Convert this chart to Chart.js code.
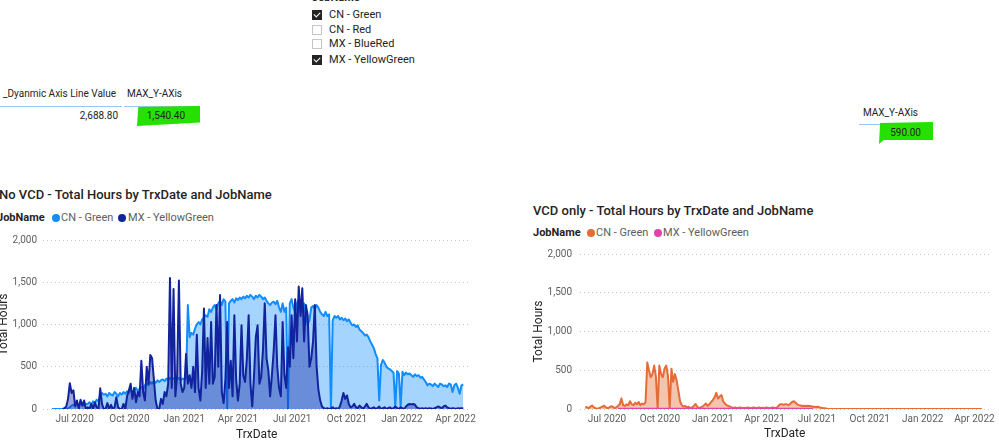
<!DOCTYPE html>
<html>
<head>
<meta charset="utf-8">
<title>Total Hours by TrxDate and JobName</title>
<script src="https://cdn.jsdelivr.net/npm/chart.js@4.4.1/dist/chart.umd.min.js"></script>
<style>
  body { margin: 0; width: 999px; height: 442px; overflow: hidden; background: #fff;
         font-family: Roboto, 'Noto Sans', sans-serif; color: #252423; position: relative; }
  .t { position: absolute; white-space: nowrap; font-size: 11px; line-height: 14px; }
  .s { font-size: 10px; }
  .r { text-align: right; }
  .box { position: absolute; width: 10px; height: 10px; box-sizing: border-box; }
  .box.on { background: #252423; }
  .box.off { border: 1px solid #c8c6c4; background: #fff; }
  .box.on::after { content: ''; position: absolute; left: 3px; top: 1px; width: 3px; height: 5px;
                   border: solid #fff; border-width: 0 1px 1px 0; transform: rotate(45deg); }
  .rule { position: absolute; height: 1px; background: #9fc5ee; }
  .mark { position: absolute; background: #25e000; }
  .title { position: absolute; white-space: nowrap; font-size: 13px; line-height: 18px; font-weight: 500; color: #252423; }
  .leg { position: absolute; white-space: nowrap; font-size: 11px; line-height: 14px; color: #605e5c; }
  .leg b { color: #252423; }
  .dot { position: absolute; width: 8px; height: 8px; border-radius: 50%; }
  canvas { position: absolute; }
</style>
</head>
<body>

<!-- slicer -->
<div class="t" style="left:312px; top:-9px; font-weight:bold;">JobName</div>
<div class="box on"  style="left:312px; top:10px;"></div>
<div class="box off" style="left:312px; top:25px;"></div>
<div class="box off" style="left:312px; top:39px;"></div>
<div class="box on"  style="left:312px; top:55px;"></div>
<div class="t" style="left:329px; top:8px;">CN - Green</div>
<div class="t" style="left:329px; top:23px;">CN - Red</div>
<div class="t" style="left:329px; top:37px;">MX - BlueRed</div>
<div class="t" style="left:329px; top:53px;">MX - YellowGreen</div>

<!-- table -->
<div class="t s" style="left:3px; top:87px;">_Dyanmic Axis Line Value</div>
<div class="t s" style="left:127px; top:87px;">MAX_Y-AXis</div>
<div class="rule" style="left:0; top:106px; width:122px;"></div>
<div class="rule" style="left:124px; top:106px; width:76px;"></div>
<div class="t s r" style="left:40px; width:78px; top:109px;">2,688.80</div>
<div class="mark" style="left:137px; top:106px; width:63px; height:20px; clip-path: polygon(2% 5%, 100% 0, 100% 82%, 0 100%);"></div>
<div class="t s r" style="left:120px; width:65px; top:109px;">1,540.40</div>

<!-- card -->
<div class="t s" style="left:863px; top:106px;">MAX_Y-AXis</div>
<div class="rule" style="left:859px; top:124px; width:70px;"></div>
<div class="mark" style="left:879px; top:122px; width:54px; height:22px; clip-path: polygon(2% 5%, 100% 0, 100% 82%, 9% 82%, 0 100%);"></div>
<div class="t s r" style="left:870px; width:51px; top:126px;">590.00</div>

<!-- chart headers -->
<div class="title" style="left:-1px; top:186px;">No VCD - Total Hours by TrxDate and JobName</div>
<div class="leg" style="left:-3px; top:211px;"><b>JobName</b></div>
<div class="dot" style="left:52px; top:214px; background:#118dff;"></div>
<div class="leg" style="left:61px; top:211px;">CN - Green</div>
<div class="dot" style="left:118px; top:214px; background:#12239e;"></div>
<div class="leg" style="left:128px; top:211px;">MX - YellowGreen</div>

<div class="title" style="left:533px; top:202px;">VCD only - Total Hours by TrxDate and JobName</div>
<div class="leg" style="left:533px; top:226px;"><b>JobName</b></div>
<div class="dot" style="left:587px; top:229px; background:#e66c37;"></div>
<div class="leg" style="left:596px; top:226px;">CN - Green</div>
<div class="dot" style="left:654px; top:229px; background:#e044a7;"></div>
<div class="leg" style="left:663px; top:226px;">MX - YellowGreen</div>

<canvas id="noVcdChart" width="484" height="214" style="left:-4px; top:228px;"></canvas>
<canvas id="vcdChart" width="469" height="202" style="left:530px; top:240px;"></canvas>

<script>
// Points are every 3 days starting 2020-05-24
const firstDate = '2020-05-24';
const stepDays = 3;

const tickDates = ['2020-07-01', '2020-10-01', '2021-01-01', '2021-04-01', '2021-07-01', '2021-10-01', '2022-01-01', '2022-04-01'];
const tickLabels = ['Jul 2020', 'Oct 2020', 'Jan 2021', 'Apr 2021', 'Jul 2021', 'Oct 2021', 'Jan 2022', 'Apr 2022'];
const yTicks = [0, 500, 1000, 1500, 2000];

// No VCD - CN - Green
const noVcdCnGreen = [
    0, 0, 0, 0, 0, 0, 0, 0, 0, 5,
    20, 40, 50, 40, 60, 50, 70, 60, 40, 60,
    60, 80, 50, 90, 70, 110, 90, 160, 190, 170,
    180, 150, 190, 170, 160, 200, 180, 150, 190, 170,
    200, 180, 210, 190, 230, 200, 220, 250, 210, 240,
    260, 240, 280, 300, 280, 320, 300, 330, 310, 340,
    320, 340, 350, 330, 360, 340, 370, 350, 360, 380,
    350, 370, 340, 360, 350, 360, 1230, 850, 900, 880,
    950, 1000, 1030, 1000, 1060, 1080, 1110, 1090, 1180, 1150,
    1200, 1230, 1180, 1250, 1280, 1230, 1300, 1270, 0, 1250,
    1280, 1300, 1260, 1310, 1290, 1320, 1300, 1330, 1310, 1340,
    1320, 1350, 1330, 1300, 1340, 1320, 1350, 1330, 1300, 1320,
    1280, 1250, 1230, 1260, 1270, 1240, 1280, 1200, 1150, 1250,
    1150, 1200, 0, 1250, 1300, 1200, 1150, 1250, 1300, 1200,
    1150, 1250, 1100, 1000, 1050, 1200, 1220, 1180, 1230, 1200,
    1150, 1120, 1100, 1150, 1100, 1120, 0, 1050, 1100, 1080,
    1100, 1060, 1080, 1050, 1070, 1040, 1060, 1020, 990, 1000,
    970, 990, 940, 920, 900, 870, 880, 850, 800, 760,
    720, 650, 600, 100, 520, 580, 550, 500, 480, 470,
    450, 430, 30, 450, 420, 30, 440, 400, 430, 410,
    420, 400, 380, 410, 390, 400, 370, 380, 350, 320,
    280, 300, 290, 270, 300, 280, 260, 300, 290, 270,
    280, 260, 300, 290, 200, 280, 300, 250, 180, 280,
    290
];

// No VCD - MX - YellowGreen
const noVcdMxYellowGreen = [
    null, null, null, null, null, null, 0, 10, 30, 120,
    305, 190, 220, 30, 100, 0, 110, 40, 100, 0,
    20, 0, 60, 0, 80, 20, 0, 245, 60, 0,
    0, 70, 0, 50, 0, 20, 140, 20, 0, 0,
    60, 0, 150, 220, 300, 120, 250, 80, 200, 150,
    570, 200, 100, 500, 300, 640, 600, 350, 100, 0,
    0, 120, 60, 200, 150, 300, 1550, 250, 1420, 150,
    400, 1520, 300, 200, 250, 650, 300, 400, 250, 500,
    200, 880, 250, 100, 450, 1190, 250, 840, 300, 1030,
    300, 380, 1230, 500, 1350, 200, 70, 350, 1030, 250,
    570, 150, 1110, 350, 100, 300, 990, 400, 320, 600,
    1110, 300, 30, 400, 850, 990, 300, 380, 700, 1250,
    600, 460, 150, 400, 690, 1110, 500, 250, 150, 1030,
    400, 250, 730, 500, 1110, 600, 1300, 800, 1450, 1100,
    1430, 800, 1230, 1110, 500, 600, 800, 1230, 500, 230,
    100, 30, 10, 0, 10, 0, 5, 20, 0, 10,
    0, 30, 100, 190, 120, 160, 60, 20, 30, 60,
    20, 10, 40, 20, 0, 30, 60, 20, 0, 10,
    20, 0, 10, 30, 0, 10, 20, 0, 10, 20,
    0, 10, 30, 10, 0, 20, 10, 0, 30, 50,
    60, 55, 60, 50, 20, 10, 0, 10, 0, 10,
    0, 10, 5, 0, 10, 20, 30, 20, 10, 30,
    40, 20, 10, 0, 10, 5, 0, 10, 5, 10,
    5
];

// VCD only - CN - Green
const vcdCnGreen = [
    20, 25, 10, 30, 45, 20, 10, 5, 10, 20,
    30, 42, 20, 10, 20, 35, 30, 10, 20, 40,
    60, 136, 50, 40, 60, 50, 100, 60, 50, 80,
    60, 90, 50, 70, 60, 90, 600, 500, 410, 450,
    560, 420, 0, 560, 450, 410, 520, 560, 430, 0,
    520, 350, 450, 370, 240, 100, 50, 30, 40, 20,
    30, 10, 20, 40, 65, 30, 10, 20, 30, 50,
    70, 40, 60, 90, 115, 150, 208, 135, 160, 180,
    100, 70, 50, 40, 30, 20, 15, 20, 10, 15,
    20, 10, 15, 10, 20, 15, 10, 15, 20, 10,
    15, 20, 10, 15, 10, 20, 15, 10, 15, 20,
    10, 15, 40, 60, 60, 55, 60, 60, 50, 70,
    90, 100, 80, 60, 50, 45, 40, 42, 40, 42,
    40, 35, 30, 30, 25, 30, 20, 15, 10, 10,
    5, 0, 0, 0, 0, 0, 0, 0, 0, 0,
    0, 0, 0, 0, 0, 0, 0, 0, 0, 0,
    0, 0, 0, 0, 0, 0, 0, 0, 0, 0,
    0, 0, 0, 0, 0, 0, 0, 0, 0, 0,
    0, 0, 0, 0, 0, 0, 0, 0, 0, 0,
    0, 0, 0, 0, 0, 0, 0, 0, 0, 0,
    0, 0, 0, 0, 0, 0, 0, 0, 0, 0,
    0, 0, 0, 0, 0, 0, 0, 0, 0, 0,
    0, 0, 0, 0, 0, 0, 0, 0, 0, 0,
    0
];

// VCD only - MX - YellowGreen
const vcdMxYellowGreen = [
    null, null, null, null, null, null, null, null, null, null,
    null, null, null, null, null, null, null, null, null, 4,
    4, 4, 4, 4, 4, 4, 4, 4, 4, 4,
    4, 4, 4, 4, 4, 4, 4, 4, 4, 4,
    4, 4, 4, 4, 4, 4, 4, 4, 4, 4,
    4, 4, 4, 4, 4, 4, 4, 4, 4, 4,
    4, 4, 4, 4, 4, 4, 4, 4, 4, 4,
    4, 4, 4, 4, 4, 4, 4, 4, 4, 4,
    4, 4, 4, 4, 4, 4, 4, 4, 4, 4,
    4, 4, 4, 4, 4, 4, 4, 4, 4, 4,
    4, 4, 4, 4, 4, 4, 4, 4, 4, 4,
    4, 4, 4, 4, 4, 4, 4, 4, 4, 4,
    4, 4, 4, 4, 4, 4, 4, 4, 4, 4,
    4, 4, 4, null, null, null, null, null, null, null,
    null, null, null, null, null, null, null, null, null, null,
    null, null, null, null, null, null, null, null, null, null,
    null, null, null, null, null, null, null, null, null, null,
    null, null, null, null, null, null, null, null, null, null,
    null, null, null, null, null, null, null, null, null, null,
    null, null, null, null, null, null, null, null, null, null,
    null, null, null, null, null, null, null, null, null, null,
    null, null, null, null, null, null, null, null, null, null,
    null, null, null, null, null, null, null, null, null, null,
    null
];

// x axis works in days counted from the first tick
const DAY_MS = 86400000;
const originMs = Date.parse(tickDates[0]);
const dayOf = iso => Math.round((Date.parse(iso) - originMs) / DAY_MS);
const tickDays = tickDates.map(dayOf);
const trxDays = noVcdCnGreen.map((v, k) => dayOf(firstDate) + k * stepDays);

Chart.defaults.font.family = "Roboto, 'Noto Sans', sans-serif";

function toPoints(values) {
    return values.map((v, k) => ({ x: trxDays[k], y: v }));
}

function lineSet(label, values, color, fillColor, order) {
    return {
        label: label,
        data: toPoints(values),
        borderColor: color,
        backgroundColor: fillColor,
        fill: 'origin',
        borderWidth: 2,
        borderJoinStyle: 'round',
        pointRadius: 0,
        tension: 0,
        order: order
    };
}

function renderChart(canvasId, datasets, cfg) {
    return new Chart(document.getElementById(canvasId), {
        type: 'line',
        data: { datasets: datasets },
        options: {
            responsive: false,
            animation: false,
            events: [],
            layout: { padding: cfg.padding },
            plugins: {
                legend: { display: false },
                tooltip: { enabled: false }
            },
            scales: {
                x: {
                    type: 'linear',
                    min: cfg.xMin,
                    max: cfg.xMax,
                    grid: { display: false, drawTicks: false },
                    border: { display: false },
                    afterBuildTicks: scale => { scale.ticks = tickDays.map(v => ({ value: v })); },
                    afterFit: scale => { scale.height = 33; },
                    ticks: {
                        autoSkip: false,
                        maxRotation: 0,
                        padding: 4,
                        color: '#605e5c',
                        font: { size: 10 },
                        callback: v => tickLabels[tickDays.indexOf(v)]
                    },
                    title: {
                        display: true,
                        text: 'TrxDate',
                        color: '#252423',
                        font: { size: 12 },
                        padding: { top: 0, bottom: cfg.xTitlePad }
                    }
                },
                y: {
                    min: 0,
                    max: 2000,
                    afterBuildTicks: scale => { scale.ticks = yTicks.map(v => ({ value: v })); },
                    afterFit: scale => { scale.width = cfg.yWidth; },
                    grid: { color: '#c8c6c4', drawTicks: false, lineWidth: 1 },
                    border: { display: false, dash: [1, 3] },
                    ticks: {
                        padding: cfg.yTickPad,
                        color: '#605e5c',
                        font: { size: 10 },
                        callback: v => v.toLocaleString('en-US')
                    },
                    title: {
                        display: true,
                        text: 'Total Hours',
                        color: '#252423',
                        font: { size: 12 },
                        padding: { top: cfg.yTitlePad, bottom: 0 }
                    }
                }
            }
        }
    });
}

renderChart('noVcdChart', [
    lineSet('CN - Green', noVcdCnGreen, '#118dff', 'rgba(17, 141, 255, 0.38)', 1),
    lineSet('MX - YellowGreen', noVcdMxYellowGreen, '#12239e', 'rgba(18, 35, 158, 0.4)', 0)
], { padding: { left: 0, right: 7, top: 9, bottom: 0 }, xMin: -53, xMax: 664, yWidth: 47, yTickPad: 6, xTitlePad: 0, yTitlePad: 1 });

renderChart('vcdChart', [
    lineSet('CN - Green', vcdCnGreen, '#e66c37', 'rgba(230, 108, 55, 0.4)', 1),
    lineSet('MX - YellowGreen', vcdMxYellowGreen, '#e044a7', 'rgba(224, 68, 167, 0.4)', 0)
], { padding: { left: 0, right: 9, top: 12, bottom: 0 }, xMin: -47, xMax: 665, yWidth: 50, yTickPad: 8, xTitlePad: 1, yTitlePad: 2 });
</script>
</body>
</html>
